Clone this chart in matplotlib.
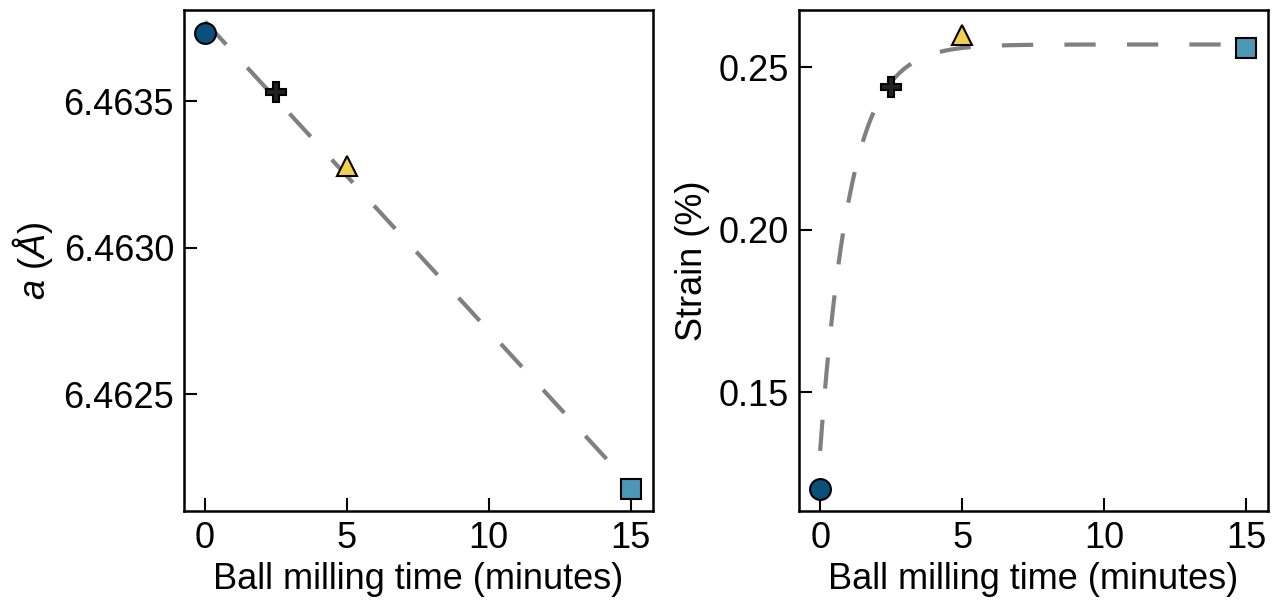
import numpy as np
import matplotlib
matplotlib.use("Agg")
import matplotlib.pyplot as plt

plt.rcParams['font.family'] = ['Liberation Sans', 'DejaVu Sans']
plt.rcParams['mathtext.fontset'] = 'custom'
plt.rcParams['mathtext.rm'] = 'Liberation Sans'
plt.rcParams['mathtext.it'] = 'Liberation Sans:italic'

# data
time_min = [0, 2.5, 5, 15]
lattice_a = [6.463732, 6.463531, 6.463278, 6.462176]
strain = [0.1202, 0.2438, 0.2598, 0.2558]

markers = ['o', 'P', '^', 's']
colors = ['#0b4f7d', '#222222', '#f2d04b', '#4a97b6']

# exponential saturation fit for strain: A - B*exp(-t/tau)
strain_A = 0.2570
strain_B = 0.1250
strain_tau = 1.05

FS = 26

fig, (ax1, ax2) = plt.subplots(1, 2, figsize=(12.76, 6.01), dpi=100)
fig.subplots_adjust(left=0.144, right=0.994, bottom=0.149, top=0.983, wspace=0.31)

# left: lattice parameter with linear fit
slope, icpt = np.polyfit(time_min, lattice_a, 1)
tt = np.linspace(0, 15, 200)
ax1.plot(tt, slope * tt + icpt, '--', color='gray', lw=3, dashes=(7.5, 7.5), zorder=1)
for x, y, m, c in zip(time_min, lattice_a, markers, colors):
    ax1.plot(x, y, marker=m, ms=15, mfc=c, mec='black', mew=1.5, ls='none', zorder=3)
ax1.set_xlim(-0.75, 15.8)
ax1.set_ylim(6.462101, 6.463811)
ax1.set_yticks([6.4625, 6.4630, 6.4635])
ax1.set_yticklabels(['6.4625', '6.4630', '6.4635'])
ax1.set_xticks([0, 5, 10, 15])
ax1.set_xlabel('Ball milling time (minutes)', fontsize=FS)
ax1.set_ylabel(r'$a$ ($\mathit{Å}$)', fontsize=FS, labelpad=6)

# right: strain with exponential fit
ax2.plot(tt, strain_A - strain_B * np.exp(-tt / strain_tau), '--', color='gray', lw=3,
         dashes=(7.5, 7.5), zorder=1)
for x, y, m, c in zip(time_min, strain, markers, colors):
    ax2.plot(x, y, marker=m, ms=15, mfc=c, mec='black', mew=1.5, ls='none', zorder=3)
ax2.set_xlim(-0.75, 15.77)
ax2.set_ylim(0.11338, 0.26754)
ax2.set_yticks([0.15, 0.20, 0.25])
ax2.set_yticklabels(['0.15', '0.20', '0.25'])
ax2.set_xticks([0, 5, 10, 15])
ax2.set_xlabel('Ball milling time (minutes)', fontsize=FS)
ax2.set_ylabel('Strain (%)', fontsize=FS, labelpad=6)

for ax in (ax1, ax2):
    ax.tick_params(direction='in', length=9.5, width=1.5, labelsize=FS, pad=7)
    for s in ax.spines.values():
        s.set_linewidth(1.8)

fig.savefig('out.png', dpi=100)
